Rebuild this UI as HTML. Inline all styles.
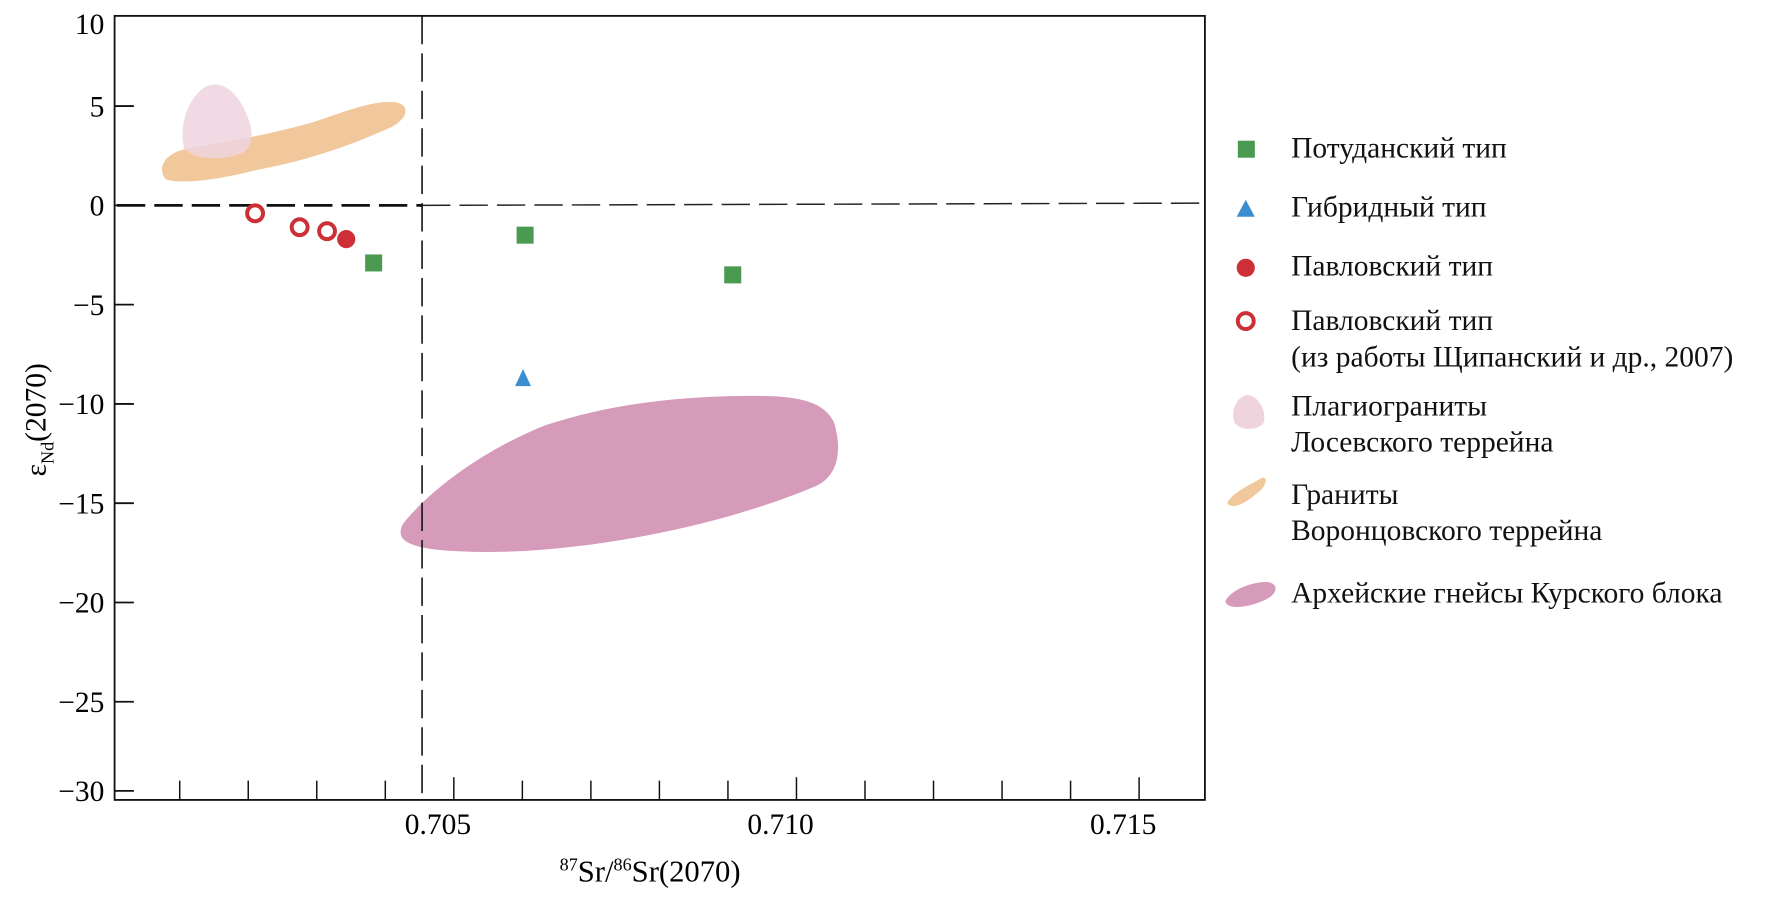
<!DOCTYPE html>
<html><head><meta charset="utf-8"><style>
html,body{margin:0;padding:0;background:#fff;}
svg{display:block;font-family:"Liberation Serif","Noto Serif CJK SC",serif;}
</style></head><body>
<svg id="chart" width="1779" height="900" viewBox="0 0 1568 793.2" preserveAspectRatio="none" xmlns="http://www.w3.org/2000/svg">
<g id="shapes">
<path fill="#d69abb" d="M355,462 C380,430 430,395 480,375 C540,355 600,350 650,349 C700,348 725,352 735,372 C742,395 740,418 720,428 C680,445 630,460 580,470 C520,482 450,490 390,485 C360,482 348,476 355,462 Z"/>
<path fill="#f0c89b" d="M146,158 C138,148 145,135 165,131 C200,125 240,118 275,108 C305,98 330,88 348,90 C362,92 360,104 345,112 C310,128 270,142 225,150 C195,158 160,163 146,158 Z"/>
<path fill="#efd4de" opacity="0.85" d="M162,130 C158,110 165,88 180,77 C193,70 205,78 213,92 C222,108 226,125 215,134 C200,142 170,142 162,130 Z"/>
</g>
<g id="frame">
<rect x="101" y="14" width="961" height="691" fill="none" stroke="#111" stroke-width="1.6"/>
</g>
<line x1="103" y1="181" x2="372" y2="181" stroke="#111" stroke-width="2.4" stroke-dasharray="25,8"/>
<line x1="372" y1="181" x2="1062" y2="179" stroke="#222" stroke-width="1.3" stroke-dasharray="25,8"/>
<line x1="372" y1="14" x2="372" y2="705" stroke="#111" stroke-width="1.4" stroke-dasharray="25,8"/>
<g id="axes"></g>
<g id="marks"></g>
<text x="573" y="777" font-size="27" text-anchor="middle"><tspan font-size="16" dy="-10">87</tspan><tspan dy="10">Sr/</tspan><tspan font-size="16" dy="-10">86</tspan><tspan dy="10">Sr(2070)</tspan></text>
<text transform="translate(40,370) rotate(-90)" font-size="26" text-anchor="middle">ε<tspan font-size="16" dy="7">Nd</tspan><tspan dy="-7">(2070)</tspan></text>
<g id="legend" font-size="26" fill="#111">
<rect x="1091" y="124" width="15" height="15" fill="#4a9a52"/>
<text x="1138" y="139">Потуданский тип</text>
<path d="M1098,176 L1106,191 L1090,191 Z" fill="#3b8fd0"/>
<text x="1138" y="191">Гибридный тип</text>
<circle cx="1098" cy="236" r="8" fill="#cc2f35"/>
<text x="1138" y="243">Павловский тип</text>
<circle cx="1098" cy="283" r="7" fill="#fff" stroke="#cc2f35" stroke-width="3.5"/>
<text x="1138" y="291">Павловский тип</text>
<text x="1138" y="323">(из работы Щипанский и др., 2007)</text>
<path d="M1088,372 C1084,360 1092,348 1100,348 C1110,350 1116,362 1114,372 C1110,380 1092,380 1088,372 Z" fill="#efd4de"/>
<text x="1138" y="366">Плагиограниты</text>
<text x="1138" y="398">Лосевского террейна</text>
<path d="M1084,440 C1090,432 1105,426 1112,421 C1118,420 1116,428 1110,433 C1102,440 1095,445 1088,446 C1082,446 1080,443 1084,440 Z" fill="#f0c89b"/>
<text x="1138" y="444">Граниты</text>
<text x="1138" y="476">Воронцовского террейна</text>
<path d="M1080,530 C1084,520 1105,512 1118,513 C1128,515 1126,525 1112,530 C1100,535 1082,538 1080,530 Z" fill="#d69abb"/>
<text x="1138" y="531">Архейские гнейсы Курского блока</text>
</g>
</svg>
<script>
const xTickValues=[0.701,0.702,0.703,0.704,0.705,0.706,0.707,0.708,0.709,0.710,0.711,0.712,0.713,0.714,0.715];
const xTickLabels=["0.705","0.710","0.715"];
const yTickValues=[10,5,0,-5,-10,-15,-20,-25,-30];
const yTickLabels=["10","5","0","\u22125","\u221210","\u221215","\u221220","\u221225","\u221230"];
const potudanX=[0.70383,0.70604,0.70907];
const potudanY=[-2.9,-1.5,-3.5];
const hybridX=[0.70601];
const hybridY=[-8.7];
const pavlovskX=[0.70343];
const pavlovskY=[-1.7];
const pavlovskLitX=[0.70210,0.70275,0.70315];
const pavlovskLitY=[-0.4,-1.1,-1.3];

const NS="http://www.w3.org/2000/svg";
function sx(v){return 400+(v-0.705)*60400;}
function sy(v){return 181-v*17.5;}
function mk(tag,attrs,parent){const e=document.createElementNS(NS,tag);for(const k in attrs)e.setAttribute(k,attrs[k]);parent.appendChild(e);return e;}
const axes=document.getElementById('axes');
const marks=document.getElementById('marks');
xTickValues.forEach(v=>{
  const major=Math.abs(Math.round(v*1000)%5)===0;
  const x=sx(v);
  const t=mk('line',{x1:x,x2:x,y1:major?685:688,y2:705,stroke:'#111','stroke-width':1.3},axes);
  
  
});
xTickLabels.forEach(s=>{
  const t=mk('text',{x:sx(parseFloat(s))-14,y:735,'font-size':26,'text-anchor':'middle'},axes);
  t.textContent=s;
  
  
});
yTickValues.forEach((v,i)=>{
  let y=sy(v); if(v===10)y=14; if(v===-30)y=697;
  if(v!==10){
  const t=mk('line',{x1:101,x2:118,y1:y,y2:y,stroke:'#111','stroke-width':1.6},axes);
  
  }
  const l=mk('text',{x:92,y:y+(v===10?16:9),'font-size':26,'text-anchor':'end'},axes);
  l.textContent=yTickLabels[i];
  
  
});
potudanX.forEach((v,i)=>{
  const r=mk('rect',{x:sx(v)-7.5,y:sy(potudanY[i])-7.5,width:15,height:15,fill:'#4a9a52'},marks);
  
  
});
hybridX.forEach((v,i)=>{
  const x=sx(v),y=sy(hybridY[i]);
  const p=mk('path',{d:`M${x},${y-8} L${x+7},${y+7} L${x-7},${y+7} Z`,fill:'#3b8fd0'},marks);
  
  
});
pavlovskLitX.forEach((v,i)=>{
  const c=mk('circle',{cx:sx(v),cy:sy(pavlovskLitY[i]),r:7,fill:'#fff',stroke:'#cc2f35','stroke-width':3.5},marks);
  
  
});
pavlovskX.forEach((v,i)=>{
  const c=mk('circle',{cx:sx(v),cy:sy(pavlovskY[i]),r:8,fill:'#cc2f35'},marks);
  
  
});
</script>
</body></html>
